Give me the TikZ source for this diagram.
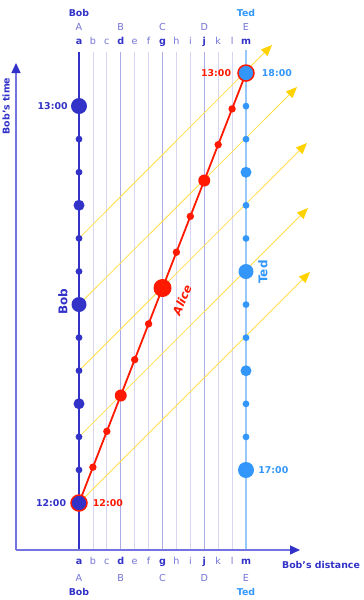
\documentclass[tikz,border=0pt]{standalone}
\usepackage{fontspec}
\setmainfont{DejaVu Sans}
\usepackage{tikz}
\usetikzlibrary{arrows.meta,positioning,backgrounds}

\definecolor{bobblue}{RGB}{50,50,200}
\definecolor{tedblue}{RGB}{50,150,250}
\definecolor{tedline}{RGB}{150,200,250}
\definecolor{alicered}{RGB}{255,25,0}
\definecolor{raylight}{RGB}{255,222,70}
\definecolor{raytip}{RGB}{255,210,0}
\definecolor{gridpale}{RGB}{214,214,244}
\definecolor{gridmid}{RGB}{172,172,232}
\definecolor{axisblue}{RGB}{115,115,225}
\definecolor{lettermid}{RGB}{115,115,212}

\begin{document}
\begin{tikzpicture}[x=1pt, y=-1pt,
  txt/.style={inner sep=0pt, font=\fontsize{9.4}{11}\selectfont\bfseries},
  boblab/.style={txt, text=bobblue},
  tedlab/.style={txt, text=tedblue},
  alicelab/.style={txt, text=alicered},
  letterbold/.style={inner sep=0pt, anchor=base, text=bobblue, font=\fontsize{9.6}{11}\selectfont\bfseries},
  letterthin/.style={inner sep=0pt, anchor=base, text=lettermid, font=\fontsize{9.6}{11}\selectfont},
  bigname/.style={inner sep=0pt, font=\fontsize{12}{14}\selectfont\bfseries},
  bobdot/.style={circle, inner sep=0pt, fill=bobblue},
  teddot/.style={circle, inner sep=0pt, fill=tedblue},
  alicedot/.style={circle, inner sep=0pt, fill=alicered},
  dothour/.style={minimum size=16pt},
  dothalf/.style={minimum size=15pt},
  dotqtr/.style={minimum size=11pt},
  dotmin/.style={minimum size=6.8pt},
  alicebig/.style={minimum size=18pt},
  aliceqtr/.style={minimum size=12pt},
  alicemin/.style={minimum size=7.4pt},
  meet/.style={draw=alicered, line width=1.5pt},
  gridline/.style={gridpale, line width=0.8pt},
  gridkey/.style={gridmid, line width=0.8pt},
  ray/.style={raylight, line width=0.8pt, -{Triangle[length=11pt,width=9pt,color=raytip]}},
  axis/.style={axisblue, line width=1.4pt, -{Triangle[length=10pt,width=9pt,color=bobblue]}},
]
\useasboundingbox (0,0) rectangle (364,600);

% Bob's clock ticks (every 5 minutes)
\foreach \k in {0,...,12}{
  \pgfmathtruncatemacro\q{mod(\k,3)}
  \pgfmathtruncatemacro\h{mod(\k,6)}
  \ifnum\q>0 \def\sz{dotmin}\else\ifnum\h>0 \def\sz{dotqtr}\else\def\sz{dothalf}\fi\fi
  \def\ex{}
  \ifnum\k=0 \def\sz{dothour}\def\ex{meet}\fi
  \ifnum\k=12 \def\sz{dothour}\fi
  \node[bobdot,\sz,\ex] (b\k) at (79,{503-33.08*\k}) {};
}
% Ted's clock ticks
\foreach \k in {0,...,12}{
  \pgfmathtruncatemacro\q{mod(\k,3)}
  \pgfmathtruncatemacro\h{mod(\k,6)}
  \ifnum\q>0 \def\sz{dotmin}\else\ifnum\h>0 \def\sz{dotqtr}\else\def\sz{dothalf}\fi\fi
  \def\ex{}
  \ifnum\k=0 \def\sz{dothour}\fi
  \ifnum\k=12 \def\sz{dothour}\def\ex{meet}\fi
  \node[teddot,\sz,\ex] (t\k) at (246,{470-33.08*\k}) {};
}
% Alice's clock ticks
\foreach \k in {1,...,11}{
  \pgfmathtruncatemacro\q{mod(\k,3)}
  \ifnum\q>0 \def\sz{alicemin}\else\def\sz{aliceqtr}\fi
  \ifnum\k=6 \def\sz{alicebig}\fi
  \node[alicedot,\sz] (al\k) at ({79+13.917*\k},{503-35.83*\k}) {};
}

\begin{scope}[on background layer]
  \foreach \n in {1,...,11}{
    \pgfmathtruncatemacro\q{mod(\n,3)}
    \coordinate (gt\n) at ({79+13.917*\n},52);
    \coordinate (gb\n) at ({79+13.917*\n},550);
    \ifnum\q=0 \draw[gridkey] (gt\n) -- (gb\n); \else \draw[gridline] (gt\n) -- (gb\n); \fi
  }
  % light signals
  \foreach \k/\x/\y in {0/310/272, 2/308/208, 4/307/143, 6/297/87, 8/272/45}{
    \coordinate (r\k) at (\x,\y);
    \draw[ray] (b\k.center) -- (r\k);
  }
  \coordinate (bobtop) at (79,52);
  \coordinate (bobbot) at (79,550);
  \coordinate (tedtop) at (246,50);
  \coordinate (tedbot) at (246,550);
  \draw[bobblue, line width=2pt] (bobtop) -- (bobbot);
  \draw[tedline, line width=1.5pt] (tedtop) -- (tedbot);
  \draw[alicered, line width=1.8pt] (b0.center) -- (t12.center);
\end{scope}

% axes
\coordinate (origin) at (16,550);
\coordinate (timeend) at (16,63);
\coordinate (distend) at (300,550);
\draw[axis] (origin) -- (timeend);
\draw[axis] (origin) -- (distend);
\node[boblab, rotate=90] (timelab) at (6,106) {Bob’s time};
\node[boblab, anchor=base] (distlab) at (321,568) {Bob’s distance};

% clock readings
\node[boblab, left=3pt of b12] (bob13) {13:00};
\node[boblab, left=4pt of b0] (bob12) {12:00};
\node[alicelab, right=5pt of b0] (alice12) {12:00};
\node[alicelab, left=6pt of t12] (alice13) {13:00};
\node[tedlab, right=7pt of t12] (ted18) {18:00};
\node[tedlab, right=4pt of t0] (ted17) {17:00};

\node[bigname, text=bobblue, rotate=90] (bobname) at (63,302) {Bob};
\node[bigname, text=tedblue, rotate=90] (tedname) at (263,272) {Ted};
\node[inner sep=0pt, text=alicered, rotate=67, font=\fontsize{11.5}{13}\selectfont\bfseries\itshape] (alicename) at (182,300) {Alice};

% column letters, top and bottom
\foreach \l [count=\n from 0] in {a,b,c,d,e,f,g,h,i,j,k,l,m}{
  \pgfmathtruncatemacro\q{mod(\n,3)}
  \ifnum\q=0 \def\ls{letterbold}\else\def\ls{letterthin}\fi
  \node[\ls] (top\l) at ({79+13.917*\n},44) {\l};
  \node[\ls] (bot\l) at ({79+13.917*\n},564) {\l};
}
\foreach \L [count=\n from 0] in {A,B,C,D,E}{
  \node[letterthin] (TOP\L) at ({79+41.75*\n},30) {\L};
  \node[letterthin] (BOT\L) at ({79+41.75*\n},581) {\L};
}
\node[boblab, anchor=base] (bobtopname) at (79,16) {Bob};
\node[tedlab, anchor=base] (tedtopname) at (246,16) {Ted};
\node[boblab, anchor=base] (bobbotname) at (79,595) {Bob};
\node[tedlab, anchor=base] (tedbotname) at (246,595) {Ted};
\end{tikzpicture}
\end{document}
